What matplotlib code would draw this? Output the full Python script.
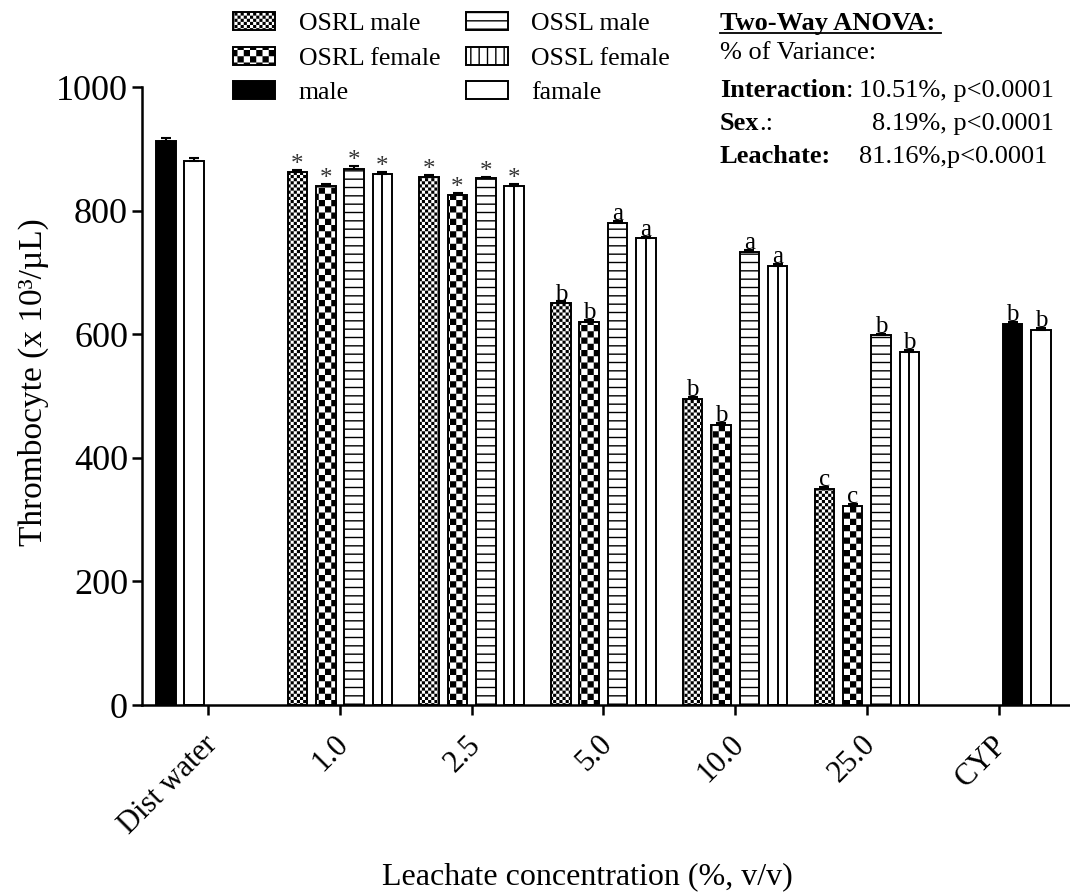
import numpy as np
import matplotlib
matplotlib.use("Agg")
import matplotlib.pyplot as plt
import matplotlib.hatch as mhatch
from matplotlib.path import Path
from matplotlib.patches import Patch
from matplotlib.lines import Line2D
from matplotlib.transforms import ScaledTranslation

# %% Data

groups = ["Dist water", "1.0", "2.5", "5.0", "10.0", "25.0", "CYP"]

# leachate groups 1.0 .. 25.0
osrl_male = [862, 854, 650, 495, 350]
osrl_male_sem = [3, 3, 3, 3, 3]
osrl_female = [840, 825, 620, 453, 322]
osrl_female_sem = [3, 3, 3, 4, 4]
ossl_male = [868, 852, 780, 733, 598]
ossl_male_sem = [4, 3, 3, 4, 3]
ossl_female = [860, 840, 755, 711, 571]
ossl_female_sem = [3, 3, 3, 3, 3]

# controls: Dist water, CYP
ctrl_male = [912, 617]
ctrl_male_sem = [5, 3]
ctrl_female = [881, 607]
ctrl_female_sem = [4, 3]

osrl_male_sig = ["*", "*", "b", "b", "c"]
osrl_female_sig = ["*", "*", "b", "b", "c"]
ossl_male_sig = ["*", "*", "a", "a", "b"]
ossl_female_sig = ["*", "*", "a", "a", "b"]
ctrl_male_sig = ["", "b"]
ctrl_female_sig = ["", "b"]

legend_labels = ["OSRL male", "OSRL female", "male",
                 "OSSL male", "OSSL female", "famale"]

# %% Checkerboard hatches (not built in)

DPI = 100
HATCH_LW = 1.0
plt.rcParams["hatch.linewidth"] = HATCH_LW


class Checker(mhatch.HatchPatternBase):
    char = "o"
    cells = 32

    def __init__(self, hatch, density):
        self.n = self.cells if self.char in hatch else 0
        self.num_vertices = (self.n * self.n // 2) * 5

    def set_vertices_and_codes(self, vertices, codes):
        n = self.n
        step = 1.0 / n
        s = HATCH_LW / 72.0 / 2  # stroke adds to the squares
        k = 0
        for i in range(n):
            for j in range(n):
                if (i + j) % 2:
                    continue
                x0, x1 = i * step + s, (i + 1) * step - s
                y0, y1 = j * step + s, (j + 1) * step - s
                vertices[k:k + 5] = [(x0, y0), (x1, y0), (x1, y1), (x0, y1), (x0, y0)]
                codes[k:k + 5] = [Path.MOVETO, Path.LINETO, Path.LINETO,
                                  Path.LINETO, Path.CLOSEPOLY]
                k += 5


class CoarseChecker(Checker):
    char = "O"
    cells = 16


mhatch._hatch_types = [mhatch.HorizontalHatch, mhatch.VerticalHatch,
                       Checker, CoarseChecker]

# %% Figure

plt.rcParams["font.family"] = ["Liberation Serif", "DejaVu Serif"]
W, H = 1070, 894
fig = plt.figure(figsize=(W / DPI, H / DPI), dpi=DPI)


def px(x, y):
    return x / W, 1 - y / H


ax = fig.add_axes([142 / W, 1 - 705 / H, (1069 - 142) / W, (705 - 87) / H])

w = 0.215      # slot spacing
bw = 0.148     # bar width
slots = np.array([-1.5, -0.5, 0.5, 1.5]) * w
lw = 1.4

conc_x = np.arange(1, 6)
ctrl_x = np.array([0, 6])

styles = [
    dict(color="white", hatch="o"),
    dict(color="white", hatch="O"),
    dict(color="white", hatch="--"),
    dict(color="white", hatch=""),
]
series = [
    (osrl_male, osrl_male_sem, osrl_male_sig),
    (osrl_female, osrl_female_sem, osrl_female_sig),
    (ossl_male, ossl_male_sem, ossl_male_sig),
    (ossl_female, ossl_female_sem, ossl_female_sig),
]

for k, ((vals, sem, sig), st) in enumerate(zip(series, styles)):
    xs = conc_x + slots[k]
    ax.bar(xs, vals, width=bw, edgecolor="black", linewidth=lw, zorder=2, **st)
    ax.errorbar(xs, vals, yerr=[np.zeros(len(vals)), sem], fmt="none",
                ecolor="black", elinewidth=1.5, capsize=3.5, capthick=1.5, zorder=3)
    if k == 3:
        ax.vlines(xs, 0, vals, color="black", linewidth=lw, zorder=2.5)
    for x, v, e, s in zip(xs, vals, sem, sig):
        if s == "*":
            ax.text(x, v + e + 8, s, ha="center", va="center", fontsize=18,
                    color="#333333", zorder=4)
        else:
            ax.text(x, v + e + 1.5, s, ha="center", va="baseline", fontsize=18, zorder=4)

# controls: Dist water uses slots 1-2, CYP slots 3-4
male_x = ctrl_x + np.array([slots[0], slots[2]])
female_x = ctrl_x + np.array([slots[1], slots[3]])
ax.bar(male_x, ctrl_male, width=bw, color="black", edgecolor="black",
       linewidth=lw, zorder=2)
ax.bar(female_x, ctrl_female, width=bw, color="white", edgecolor="black",
       linewidth=lw, zorder=2)
for xs, vals, sem, sig in [(male_x, ctrl_male, ctrl_male_sem, ctrl_male_sig),
                           (female_x, ctrl_female, ctrl_female_sem, ctrl_female_sig)]:
    ax.errorbar(xs, vals, yerr=[np.zeros(len(vals)), sem], fmt="none",
                ecolor="black", elinewidth=1.5, capsize=3.5, capthick=1.5, zorder=3)
    for x, v, e, s in zip(xs, vals, sem, sig):
        ax.text(x, v + e + 1.5, s, ha="center", va="baseline", fontsize=18, zorder=4)

ax.set_xlim(-0.503, 6.535)
ax.set_ylim(0, 1000)
ax.set_yticks(np.arange(0, 1001, 200))
ax.set_xticks(np.arange(len(groups)))
ax.set_xticklabels(groups, rotation=45, ha="right", rotation_mode="anchor")
ax.tick_params(axis="both", width=1.8, length=7, direction="out")
ax.tick_params(axis="y", labelsize=26, pad=3)
ax.tick_params(axis="x", labelsize=22, pad=11)
shift = ScaledTranslation(-0.06, 0, fig.dpi_scale_trans)
for lbl in ax.get_xticklabels():
    lbl.set_transform(lbl.get_transform() + shift)
for side in ["top", "right"]:
    ax.spines[side].set_visible(False)
for side in ["left", "bottom"]:
    ax.spines[side].set_linewidth(1.8)

fig.text(*px(33, 382), "Thrombocyte (x 10³/µL)", rotation=90,
         ha="center", va="center", fontsize=24)
fig.text(*px(587, 877), "Leachate concentration (%, v/v)",
         ha="center", va="center", fontsize=23)

# legend
handles = [
    Patch(facecolor="white", edgecolor="black", hatch="o", linewidth=lw),
    Patch(facecolor="white", edgecolor="black", hatch="O", linewidth=lw),
    Patch(facecolor="black", edgecolor="black", linewidth=lw),
    Patch(facecolor="white", edgecolor="black", hatch="--", linewidth=lw),
    Patch(facecolor="white", edgecolor="black", hatch="||", linewidth=lw),
    Patch(facecolor="white", edgecolor="black", linewidth=lw),
]
fig.legend(handles, legend_labels, ncol=2, loc="upper left",
           bbox_to_anchor=px(233, 12), frameon=False, fontsize=18.5,
           handlelength=1.65, handleheight=0.7, handletextpad=0.9,
           columnspacing=1.0, labelspacing=0.45, borderpad=0, borderaxespad=0)

# ANOVA summary
fs = 19
fig.text(*px(720, 30), "Two-Way ANOVA:", fontsize=fs, fontweight="bold", va="baseline")
fig.add_artist(Line2D([720 / W, 941 / W], [1 - 33 / H, 1 - 33 / H],
                      color="black", linewidth=1.3, transform=fig.transFigure))
fig.text(*px(720, 59), "% of Variance:", fontsize=fs, va="baseline")

t = fig.text(*px(720, 97), "Interaction", fontsize=fs, fontweight="bold", va="baseline")
ax.annotate(":", xy=(1, 0), xycoords=t, fontsize=fs, va="bottom")
fig.text(*px(859, 97), "10.51%, p<0.0001", fontsize=fs, va="baseline")

t = fig.text(*px(720, 130), "Sex", fontsize=fs, fontweight="bold", va="baseline")
ax.annotate(".:", xy=(1, 0), xycoords=t, fontsize=fs, va="bottom")
fig.text(*px(872, 130), "8.19%, p<0.0001", fontsize=fs, va="baseline")

fig.text(*px(720, 163), "Leachate:", fontsize=fs, fontweight="bold", va="baseline")
fig.text(*px(859, 163), "81.16%,p<0.0001", fontsize=fs, va="baseline")

fig.savefig("out.png", dpi=DPI)
